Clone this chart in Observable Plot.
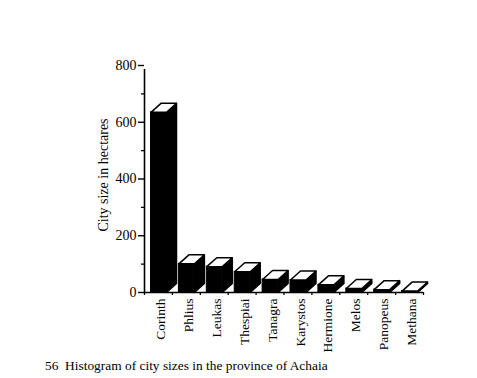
<!DOCTYPE html>
<html>
<head>
<meta charset="utf-8">
<script src="https://cdn.jsdelivr.net/npm/d3@7"></script>
<script src="https://cdn.jsdelivr.net/npm/@observablehq/plot@0.6"></script>
<style>
  html, body { margin: 0; padding: 0; background: #fff; }
  #wrap { position: relative; width: 477px; height: 378px; overflow: hidden; font-family: "Liberation Serif", "DejaVu Serif", serif; color: #000; }
  #chart { position: absolute; left: 0; top: 0; }
  #title { position: absolute; left: 0; width: 536px; top: 28px; text-align: center; font-style: italic; font-size: 15px; line-height: 18px; }
  #caption { position: absolute; left: 45px; top: 358px; font-size: 13.4px; line-height: 16px; white-space: nowrap; }
</style>
</head>
<body>
<div id="wrap">
  <div id="title">Graecia capta</div>
  <div id="chart"></div>
  <div id="caption">56&nbsp; Histogram of city sizes in the province of Achaia</div>
</div>
<script>
// ---- data ----
const cities = ["Corinth","Phlius","Leukas","Thespiai","Tanagra","Karystos","Hermione","Melos","Panopeus","Methana"];
const sizes  = [635, 101, 91, 73, 46, 44, 27, 14, 10, 5];
const majorTicks = [0, 200, 400, 600, 800];
const minorTicks = [100, 300, 500, 700];
const yTitle = "City size in hectares";

// ---- layout constants (in scale units) ----
const OFF = 0.233;   // front face start within band
const W = 0.556;     // front face width
const DX = 0.358;    // depth offset in x
const DY = 31.7;     // depth offset in y

const rows = cities.map((name, i) => ({name, i, v: sizes[i], xl: i + OFF, xr: i + OFF + W}));

const sidePts = [];
const topPts = [];
rows.forEach(r => {
  [[r.xr, 0], [r.xr, r.v], [r.xr + DX, r.v + DY], [r.xr + DX, DY], [r.xr, 0]]
    .forEach(([x, y]) => sidePts.push({name: r.name, x, y}));
  [[r.xl, r.v], [r.xr, r.v], [r.xr + DX, r.v + DY], [r.xl + DX, r.v + DY], [r.xl, r.v]]
    .forEach(([x, y]) => topPts.push({name: r.name, x, y}));
});

const chart = Plot.plot({
  width: 477,
  height: 378,
  marginLeft: 144,
  marginRight: 54,
  marginTop: 65,
  marginBottom: 86,
  style: {fontFamily: "Liberation Serif", fontSize: "14px", background: "white", color: "black"},
  x: {type: "linear", domain: [0, 10], axis: null},
  y: {domain: [0, 800], axis: null},
  marks: [
    Plot.rectY(rows, {x1: "xl", x2: "xr", y1: 0, y2: "v", fill: "black", stroke: "black", strokeWidth: 1}),
    Plot.line(sidePts, {x: "x", y: "y", z: "name", fill: "black", stroke: "black", strokeWidth: 1.5, curve: "linear"}),
    Plot.line(topPts, {x: "x", y: "y", z: "name", fill: "white", stroke: "black", strokeWidth: 1.5, strokeLinejoin: "miter", curve: "linear"}),
    Plot.ruleY([0], {stroke: "black", strokeWidth: 1.4}),
    Plot.ruleX([0], {y1: 0, y2: 800, stroke: "black", strokeWidth: 1.6, insetBottom: -4}),
    Plot.axisY({ticks: majorTicks, tickSize: 6, tickPadding: 2, fontSize: 14, strokeWidth: 1.4, label: null}),
    Plot.axisY({ticks: minorTicks, tickSize: 3, tickFormat: () => "", strokeWidth: 1.3, label: null}),
    Plot.axisX({ticks: d3.range(0, 11), tickSize: 3, tickFormat: () => "", strokeWidth: 1.3, label: null}),
    Plot.axisX({ticks: d3.range(0, 10).map(i => i + 0.58), tickSize: 0, tickPadding: 6, tickRotate: -90, fontSize: 13.5,
                tickFormat: d => cities[Math.floor(d)], label: null}),
    Plot.text([yTitle], {frameAnchor: "left", rotate: -90, dx: -41, dy: -4, textAnchor: "middle", fontSize: 14})
  ]
});
document.getElementById("chart").appendChild(chart);
</script>
</body>
</html>
